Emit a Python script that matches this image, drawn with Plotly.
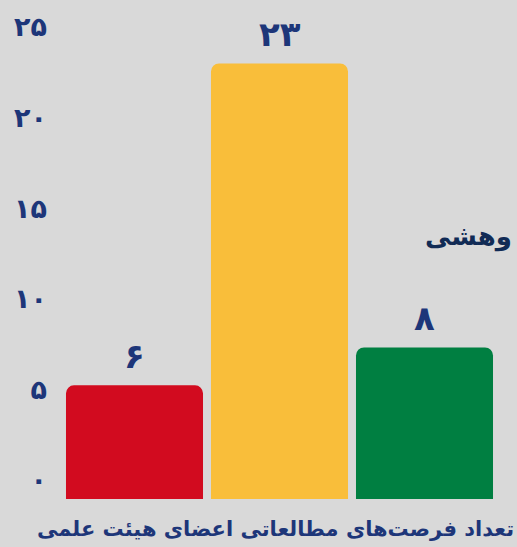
import plotly.graph_objects as go

categories = ["الف", "ب", "ج"]
values = [6, 23, 8]
bar_colors = ["#d20b1f", "#f9be3a", "#007f41"]
tick_values = [0, 5, 10, 15, 20, 25]
title_text = "تعداد فرصت‌های مطالعاتی اعضای هیئت علمی"
side_text = "وهشی"

FA = str.maketrans("0123456789", "۰۱۲۳۴۵۶۷۸۹")
def fa(n):
    return str(n).translate(FA)

navy = "#1d3679"
font_family = "DejaVu Sans"

W, H = 517, 547
ml, mr, mt, mb = 62, 20, 0, 48
plot_h = H - mt - mb
px_per_unit = 18.94
y_top = plot_h / px_per_unit
lab_ppu = 18.12
lab_bottom = -19 / lab_ppu
lab_top = lab_bottom + plot_h / lab_ppu

fig = go.Figure()
fig.add_trace(go.Bar(
    x=categories, y=values,
    marker=dict(color=bar_colors, cornerradius=8, line=dict(width=0)),
    hoverinfo="skip",
    yaxis="y",
))
fig.add_trace(go.Scatter(x=categories, y=values, yaxis="y2", mode="markers",
                         marker=dict(opacity=0), hoverinfo="skip", showlegend=False))

annotations = [
    dict(text=fa(v), x=c, y=v, xref="x", yref="y", yanchor="middle",
         yshift=29, showarrow=False,
         font=dict(family=font_family, size=34, color=navy, weight="bold"))
    for c, v in zip(categories, values)
]
annotations += [
    dict(text=title_text, xref="paper", yref="paper",
         x=(516 - ml) / (W - ml - mr), y=-(529 - plot_h) / plot_h,
         xanchor="right", yanchor="middle", showarrow=False,
         font=dict(family=font_family, size=21, color=navy, weight="bold")),
    dict(text=side_text, xref="paper", yref="paper",
         x=(514 - ml) / (W - ml - mr), y=(plot_h - 236) / plot_h,
         xanchor="right", yanchor="middle", showarrow=False,
         font=dict(family=font_family, size=26, color="#112b55", weight="bold")),
]

fig.update_layout(
    width=W, height=H,
    margin=dict(l=ml, r=mr, t=mt, b=mb),
    paper_bgcolor="#d9d9d9", plot_bgcolor="#d9d9d9",
    bargap=0.055,
    showlegend=False,
    hovermode=False,
    xaxis=dict(showticklabels=False, showgrid=False, zeroline=False, showline=False),
    yaxis=dict(range=[0, y_top], showticklabels=False, showgrid=False,
               zeroline=False, showline=False),
    yaxis2=dict(range=[lab_bottom, lab_top], overlaying="y", side="left",
                tickvals=tick_values, ticktext=[fa(v) for v in tick_values],
                tickfont=dict(family=font_family, size=27, color=navy, weight="bold"),
                showgrid=False, zeroline=False, showline=False, ticks="",
                ticklabelstandoff=14),
    annotations=annotations,
)

fig.write_html("out.html", config={"displayModeBar": False},
               post_script="document.body.style.margin='0';document.body.style.background='#d9d9d9';")
